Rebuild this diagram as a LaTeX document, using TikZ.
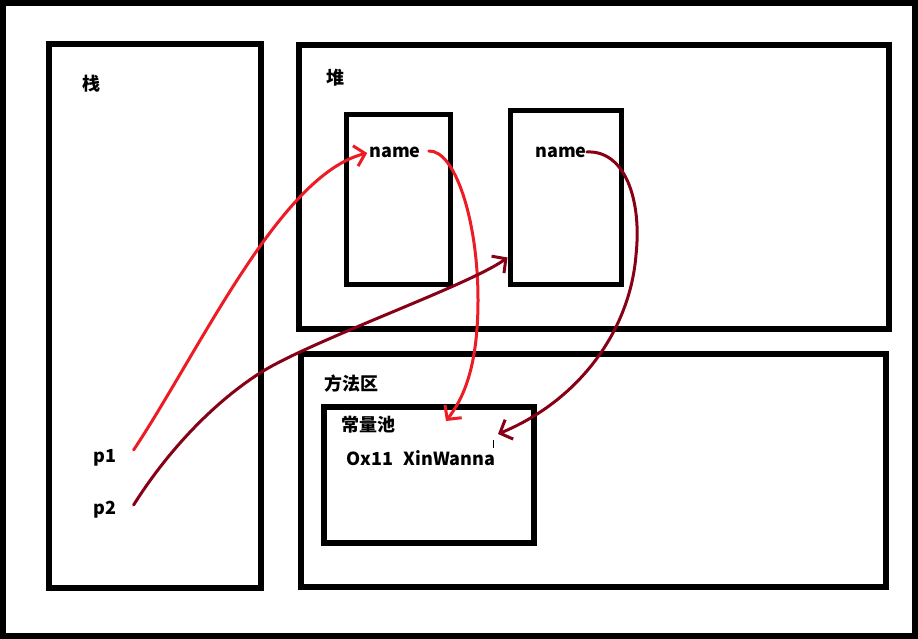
\documentclass[tikz,border=0pt]{standalone}
\usepackage{fontspec}
\setmainfont{Noto Sans CJK SC}
\usetikzlibrary{arrows.meta}
\definecolor{pred}{HTML}{ED1C24}
\definecolor{pdark}{HTML}{880015}
\tikzset{
  box/.style={draw=black, line width=6, inner sep=0, fill=none},
  ibox/.style={draw=black, line width=5, inner sep=0},
  lbl/.style={inner sep=0, font=\fontsize{18}{20}\selectfont\bfseries},
  barb/.style={-{Straight Barb[length=10pt,width=21pt,line width=3pt]}},
  rarrow/.style={draw=pred, line width=3, line cap=round, barb},
  darrow/.style={draw=pdark, line width=3, line cap=round, barb}
}
\begin{document}
\begin{tikzpicture}[x=1pt,y=-1pt]
\useasboundingbox (0,0) rectangle (918,639);
\fill[white] (0,0) rectangle (918,639);
\node[box, minimum width=912, minimum height=633] (frame) at (459,319.5) {};
\node[box, minimum width=212, minimum height=544] (stack) at (155,316) {};
\node[box, minimum width=590, minimum height=284] (heap) at (594,187) {};
\node[box, minimum width=585, minimum height=233] (method) at (593.5,470.5) {};
\node[box, minimum width=210, minimum height=136] (pool) at (429,475) {};
\node[ibox, minimum width=104, minimum height=169] (box1) at (398,199.5) {};
\node[ibox, minimum width=111, minimum height=173] (box2) at (565.5,197.5) {};

\node[lbl] (stacklbl) at (91,84) {栈};
\node[lbl] (heaplbl) at (335,78) {堆};
\node[lbl] (methodlbl) at (351,384) {方法区};
\node[lbl] (poollbl) at (368,425) {常量池};
\node[lbl] (const) at (421,458) {Ox11\hspace{0.6em}XinWanna};
\node[lbl] (p1) at (105,458) {p1};
\node[lbl] (p2) at (105,510) {p2};
\node[lbl] (name1) at (395,152) {name};
\node[lbl] (name2) at (561,152) {name};

\coordinate (tipA) at (446,421);
\coordinate (tipB) at (498,434);
\draw[line width=1] (493,440) -- (493,448);

\draw[rarrow] ([shift={(17,-8)}]p1.east) .. controls (200,350) and (280,175) .. ([shift={(-2,1)}]name1.west);
\draw[rarrow] ([shift={(8,-1)}]name1.east) .. controls (455,150) and (478,220) .. (478,300) .. controls (478,370) and (462,400) .. (tipA);
\draw[darrow] ([shift={(17,-5)}]p2.east) .. controls (165,455) and (210,405) .. (260,373) .. controls (310,341) and (470,285) .. ([shift={(0,60)}]box2.west);
\draw[darrow] (name2.east) .. controls (625,150) and (642,200) .. (636,255) .. controls (630,330) and (580,400) .. (tipB);
\end{tikzpicture}
\end{document}
